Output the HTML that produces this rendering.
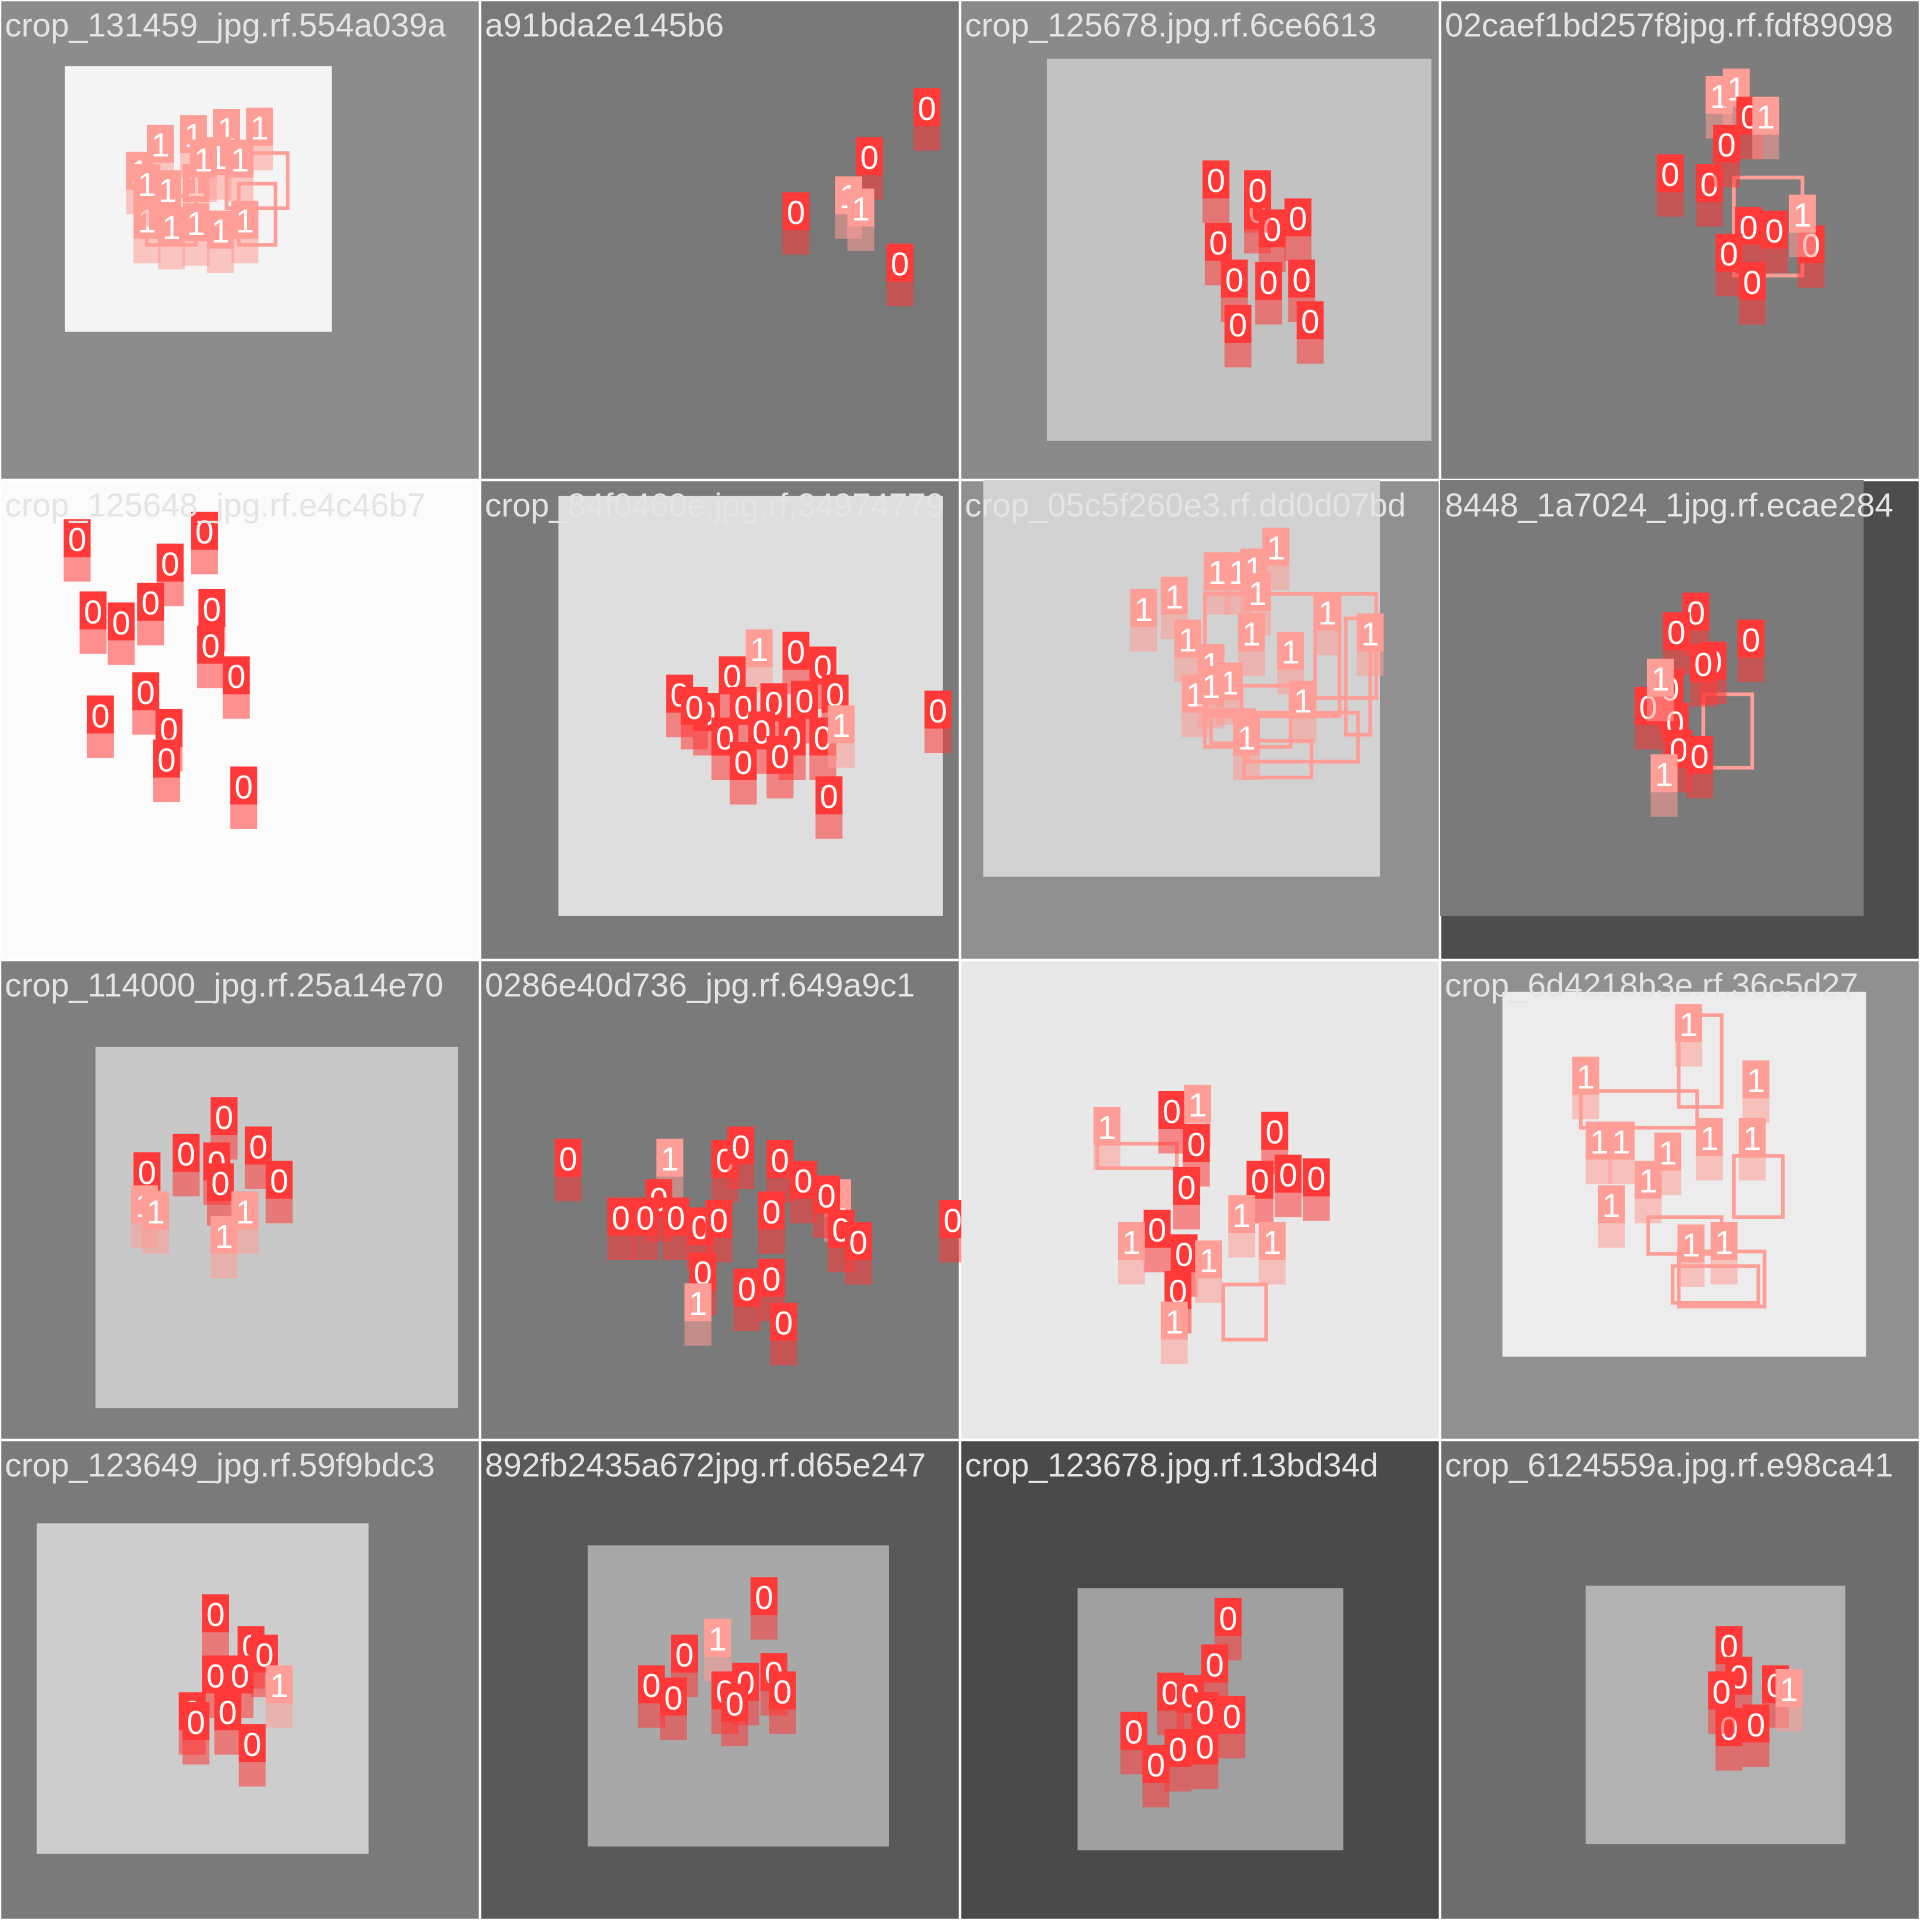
<!DOCTYPE html>
<html><head><meta charset="utf-8"><style>
html,body{margin:0;padding:0;background:#fff;width:1920px;height:1920px;overflow:hidden}
#wrap{width:1568px;height:1568px;transform:scale(1.22449);transform-origin:0 0}
svg text{font-family:"Liberation Sans",sans-serif}
</style></head><body>
<div id="wrap">
<svg id="svg" width="1568" height="1568" viewBox="0 0 1568 1568"></svg>
</div>
<script>
const titles=["crop_131459_jpg.rf.554a039a","a91bda2e145b6","crop_125678.jpg.rf.6ce6613","02caef1bd257f8jpg.rf.fdf89098",
"crop_125648_jpg.rf.e4c46b7","crop_84f0460e.jpg.rf.34974779","crop_05c5f260e3.rf.dd0d07bd","8448_1a7024_1jpg.rf.ecae284",
"crop_114000_jpg.rf.25a14e70","0286e40d736_jpg.rf.649a9c1","","crop_6d4218b3e.rf.36c5d27",
"crop_123649_jpg.rf.59f9bdc3","892fb2435a672jpg.rf.d65e247","crop_123678.jpg.rf.13bd34d","crop_6124559a.jpg.rf.e98ca41"];
const bgs=["#8c8c8c","#787878","#8a8a8a","#7d7d7d","#fbfbfb","#7a7a7a","#909090","#4d4d4d","#7f7f7f","#7a7a7a","#e8e8e8","#909090","#7a7a7a","#595959","#4a4a4a","#6e6e6e"];
const inners=[[53,54,218,217,"#f4f4f4"],null,[71,48,314,312,"#c2c2c2"],null,null,[64,13,314,343,"#dedede"],[19,0,324,324,"#d2d2d2"],[0,0,346,356,"#7a7a7a"],
[78,71,296,295,"#c8c8c8"],null,null,[51,26,297,298,"#ececec"],[30,68,271,270,"#cdcdcd"],[88,86,246,246,"#a8a8a8"],[96,121,217,214,"#a0a0a0"],[119,119,212,211,"#b2b2b2"]];
const boxes=[
[[131,118,1],[158,110,1],[185,105,1],[212,104,1],[114,140,1],[137,155,1],[160,150,1],[178,128,1],[196,130,1],[120,180,1],[140,185,1],[160,182,1],[180,188,1],[200,180,1],[166,130,1],[120,150,1]],
[[365,88,0],[318,128,0],[258,173,0],[301,160,1],[311,170,1],[343,215,0]],
[[209,147,0],[243,172,0],[255,187,0],[276,178,0],[211,198,0],[224,228,0],[252,230,0],[279,228,0],[227,265,0],[286,262,0],[243,155,0]],
[[228,78,1],[242,72,1],[253,95,0],[266,95,1],[188,142,0],[220,150,0],[234,118,0],[252,185,0],[273,188,0],[236,207,0],[303,200,0],[255,230,0],[296,175,1]],
[[63,48,0],[167,42,0],[139,68,0],[76,107,0],[99,116,0],[123,100,0],[173,105,0],[172,135,0],[193,160,0],[119,173,0],[82,192,0],[138,203,0],[136,228,0],[199,250,0]],
[[163,175,0],[206,160,0],[228,138,1],[258,140,0],[280,152,0],[215,185,0],[240,182,0],[265,180,0],[290,175,0],[185,190,0],[200,210,0],[230,205,0],[255,210,0],[280,210,0],[295,200,1],[215,230,0],[245,225,0],[374,188,0],[285,258,0],[175,185,0]],
[[210,75,1],[227,75,1],[258,55,1],[240,72,1],[243,92,1],[150,105,1],[175,95,1],[186,130,1],[205,150,1],[220,165,1],[238,125,1],[270,140,1],[300,108,1],[335,125,1],[280,180,1],[234,210,1],[192,175,1],[205,168,1]],
[[209,108,0],[193,124,0],[223,148,0],[254,130,0],[170,185,0],[188,170,0],[192,198,0],[195,220,0],[212,225,0],[183,240,1],[215,150,0],[180,162,1]],
[[120,173,0],[152,158,0],[183,128,0],[211,152,0],[228,180,0],[177,165,0],[180,182,0],[118,200,1],[127,205,1],[183,225,1],[200,205,1]],
[[72,162,0],[155,162,1],[200,163,0],[213,152,0],[245,163,0],[264,180,0],[146,195,0],[115,210,0],[135,210,0],[160,210,0],[180,218,0],[195,212,0],[238,205,0],[292,195,1],[283,192,0],[295,220,0],[309,230,0],[182,255,0],[218,268,0],[238,260,0],[248,296,0],[386,212,0],[178,280,1]],
[[120,136,1],[173,123,0],[194,118,1],[193,150,0],[257,140,0],[185,185,0],[245,180,0],[268,175,0],[291,178,0],[161,220,0],[140,230,1],[183,240,0],[203,245,1],[178,270,0],[255,230,1],[230,208,1],[175,295,1]],
[[203,52,1],[119,95,1],[258,98,1],[130,148,1],[148,148,1],[186,157,1],[220,145,1],[255,145,1],[140,200,1],[170,180,1],[205,232,1],[232,230,1]],
[[176,142,0],[205,168,0],[216,175,0],[176,192,0],[196,192,0],[228,200,1],[157,222,0],[186,222,0],[206,248,0],[160,230,0]],
[[232,128,0],[194,162,1],[167,175,0],[140,200,0],[158,210,0],[200,205,0],[217,198,0],[240,190,0],[247,205,0],[208,215,0]],
[[219,145,0],[208,183,0],[172,206,0],[188,208,0],[200,222,0],[222,225,0],[142,238,0],[178,252,0],[200,250,0],[160,265,0]],
[[236,168,0],[244,193,0],[274,200,0],[285,203,1],[236,235,0],[258,232,0],[230,205,0]]
];
const outlines=[[[185,125,50,45],[120,160,40,40],[195,150,30,50]],[],[],[[240,145,56,80]],[],[],
[[200,485-392,110,100],[200,580-392,40,30],[230,560-392,40,50],[290,485-392,50,85],[315,505-392,20,95]].map(a=>a).concat([[205,190,30,25],[232,213,55,30],[235,190,90,40]]),
[[215,175,40,60]],[],[],[[112,150,65,20],[215,265,35,45]],
[[115,107,95,30],[195,45,35,75],[240,160,40,50],[170,210,60,30],[190,250,70,30],[195,238,70,45]],[],[],[],[]];
const svg=document.getElementById('svg');
const NS='http://www.w3.org/2000/svg';
function mk(t,a){const e=document.createElementNS(NS,t);for(const k in a)e.setAttribute(k,a[k]);return e;}
for(let i=0;i<16;i++){
  const ox=(i%4)*392, oy=Math.floor(i/4)*392;
  const g=mk('g',{transform:`translate(${ox},${oy})`});
  
  
  const bg=mk('rect',{x:1,y:1,width:390,height:390,fill:bgs[i]});
  
  
  g.appendChild(bg);
  const inn=inners[i];
  if(inn){const r=mk('rect',{x:inn[0],y:inn[1],width:inn[2],height:inn[3],fill:inn[4]});
    
    
    g.appendChild(r);}
  for(const o of outlines[i]){
    const r=mk('rect',{x:o[0],y:o[1],width:o[2],height:o[3],fill:'none',stroke:'#ff9d97',"stroke-width":3});
    
    
    g.appendChild(r);
  }
  for(const b of boxes[i]){
    const col=b[2]?'#ff9d97':'#ff3838';
    const bb=mk('rect',{x:b[0]-10,y:b[1]+14,width:20,height:20,fill:col,opacity:0.55,stroke:col,"stroke-width":2});
    
    
    g.appendChild(bb);
    const lb=mk('rect',{x:b[0]-11,y:b[1]-16,width:22,height:31,fill:col});
    
    
    g.appendChild(lb);
    const t=mk('text',{x:b[0],y:b[1]+10,"font-size":27,fill:'#fff',"text-anchor":'middle'});
    t.textContent=String(b[2]);
    
    
    g.appendChild(t);
  }
  svg.appendChild(g);
}
for(let i=0;i<16;i++){
  const ox=(i%4)*392, oy=Math.floor(i/4)*392;
  const t=mk('text',{x:ox+4,y:oy+30,"font-size":27,fill:'#e4e4e4'});
  t.textContent=titles[i];
  
  
  svg.appendChild(t);
}
</script>
</body></html>
